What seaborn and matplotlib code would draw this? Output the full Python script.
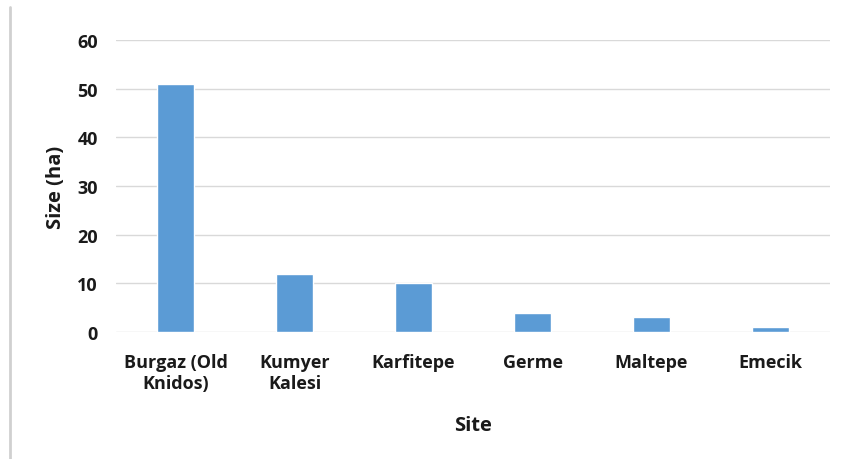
import matplotlib
matplotlib.use("Agg")
import matplotlib.pyplot as plt
import seaborn as sns
import pandas as pd
from matplotlib.lines import Line2D

sites = ["Burgaz (Old\nKnidos)", "Kumyer\nKalesi", "Karfitepe", "Germe", "Maltepe", "Emecik"]
sizes = [51, 12, 10, 4, 3, 1]
y_ticks = [0, 10, 20, 30, 40, 50, 60]

sns.set_theme(style="white")
plt.rcParams['font.family'] = ['Open Sans', 'DejaVu Sans']

df = pd.DataFrame({"Site": sites, "Size (ha)": sizes})

fig = plt.figure(figsize=(8.43, 4.6), dpi=100)
ax = fig.add_axes([116 / 843, 1 - 333 / 460, 714 / 843, 292 / 460])

sns.barplot(data=df, x="Site", y="Size (ha)", color="#5B9BD5", width=0.31,
            saturation=1, ax=ax, zorder=3)

ax.set_ylim(0, 60)
ax.set_yticks(y_ticks)
ax.yaxis.grid(True, color="#D9D9D9", linewidth=1, zorder=0)
ax.set_axisbelow(True)
for s in ax.spines.values():
    s.set_visible(False)
ax.tick_params(axis="both", length=0, labelsize=13, colors="#1a1a1a")
ax.tick_params(axis="y", pad=13)
ax.tick_params(axis="x", pad=15)
for lab in ax.get_xticklabels() + ax.get_yticklabels():
    lab.set_fontweight("bold")

ax.set_xlabel("Site", fontsize=14.5, fontweight="bold", color="#1a1a1a", labelpad=17)
ax.set_ylabel("Size (ha)", fontsize=14.5, fontweight="bold", color="#1a1a1a", labelpad=8)

# grey frame line on the left edge
fig.add_artist(Line2D([9.5 / 843, 9.5 / 843], [0, 1 - 8 / 460],
                      transform=fig.transFigure, color="#D0D0D0", linewidth=2))

fig.savefig("out.png", dpi=100)
